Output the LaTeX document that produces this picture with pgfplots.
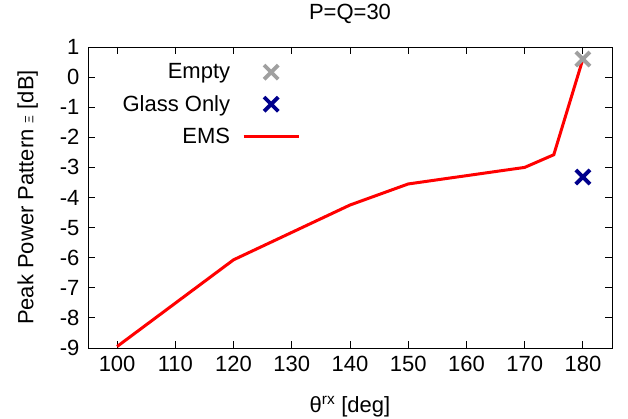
\documentclass[border=0pt]{standalone}
\usepackage{fontspec}
\setmainfont{Liberation Sans}
\usepackage{pgfplots}
\pgfplotsset{compat=1.18}
\definecolor{emptygray}{RGB}{160,160,160}
\definecolor{glassblue}{RGB}{0,0,140}
\pgfplotsset{
  markleg/.style={legend image code/.code={\draw[##1] plot coordinates {(27.5pt,0pt)};}},
  lineleg/.style={legend image code/.code={\draw[##1] (0pt,0pt) -- (55pt,0pt);}},
}
\newcommand\bigf{\fontsize{22}{26}\selectfont}
\begin{document}
\begin{tikzpicture}
\begin{axis}[
  name=ax,
  scale only axis,
  width=524pt, height=301pt,
  xmin=95, xmax=185, ymin=-9, ymax=1,
  xtick={100,110,...,180},
  ytick={-9,-8,...,1},
  tick align=inside,
  major tick length=7pt,
  axis line style={line width=0.8pt},
  every tick/.style={black,line width=0.8pt},
  /pgf/number format/assume math mode=true,
  tick label style={font=\bigf},
  xticklabel style={yshift=-5pt},
  yticklabel style={xshift=-5pt},
  label style={font=\bigf},
  xlabel style={at={(axis description cs:0.5,-0.195)}, anchor=center},
  ylabel style={at={(axis description cs:-0.115,0.5)}, anchor=center},
  xlabel={θ\textsuperscript{rx} [deg]},
  ylabel={Peak Power Pattern {\fontsize{12}{13}\selectfont Ξ} [dB]},
  legend plot pos=right,
  legend cell align=right,
  legend style={at={(0.411,0.958)}, anchor=north east, draw=none, fill=none,
    font=\bigf, row sep=11pt, column sep=10pt},
]
\addplot[only marks, mark=x, color=emptygray, line width=3.8pt, mark size=10pt, markleg]
  coordinates {(180,0.6)};
\addlegendentry{Empty}
\addplot[only marks, mark=x, color=glassblue, line width=3.8pt, mark size=10pt, markleg]
  coordinates {(180,-3.32)};
\addlegendentry{Glass Only}
\addplot[color=red, line width=3pt, mark=none, lineleg]
  coordinates {(100,-8.95) (120,-6.07) (140,-4.25) (150,-3.55) (170,-3.0) (175,-2.58) (180,0.6)};
\addlegendentry{EMS}
\end{axis}
\node[font=\bigf, anchor=center] at ([yshift=33pt]ax.north) {P=Q=30};
\pgfresetboundingbox
\path ([xshift=-88pt,yshift=-71pt]ax.south west) rectangle ([xshift=16pt,yshift=47pt]ax.north east);
\end{tikzpicture}
\end{document}
